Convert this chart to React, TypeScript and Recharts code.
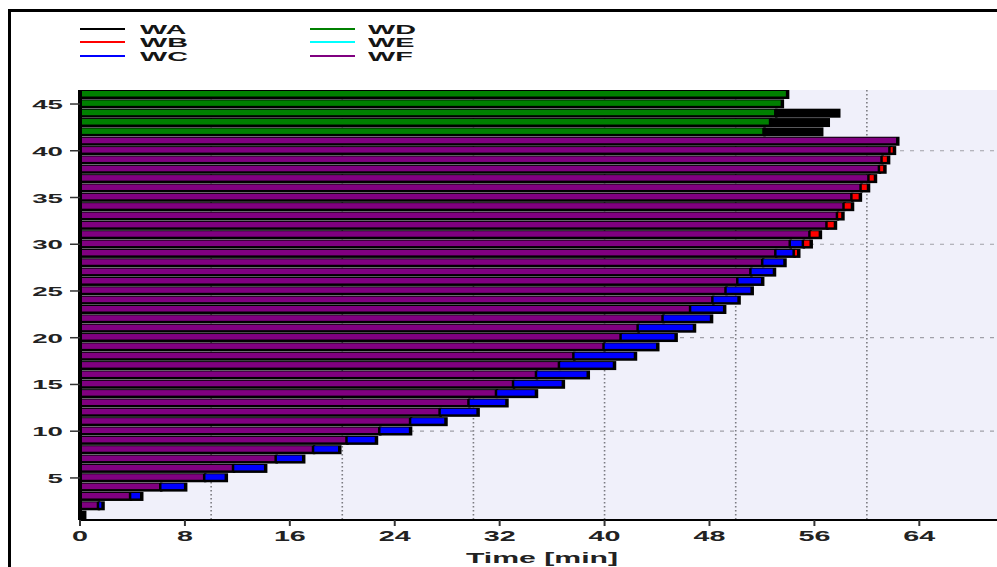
import { Bar, BarChart, CartesianGrid, Legend, XAxis, YAxis } from "recharts";

// machine rows, bottom to top
const rows = [
  1, 2, 3, 4, 5, 6, 7, 8, 9, 10, 11, 12, 13, 14, 15, 16, 17, 18, 19, 20, 21, 22, 23,
  24, 25, 26, 27, 28, 29, 30, 31, 32, 33, 34, 35, 36, 37, 38, 39, 40, 41, 42, 43, 44, 45, 46,
];

// minutes spent in each state, per row
const wf = [
  0, 1.35, 3.8, 6.1, 9.45, 11.65, 14.9, 17.75, 20.3, 22.8, 25.15, 27.4, 29.6, 31.7, 33.0,
  34.75, 36.5, 37.6, 39.9, 41.2, 42.5, 44.4, 46.5, 48.2, 49.2, 50.1, 51.1, 52.0, 53.0, 54.1,
  55.6, 56.9, 57.7, 58.2, 58.8, 59.5, 60.1, 60.9, 61.1, 61.7, 62.3, 0, 0, 0, 0, 0,
];
const wc = [
  0, 0.35, 0.85, 1.9, 1.65, 2.45, 2.1, 2.0, 2.25, 2.35, 2.7, 2.9, 2.9, 3.05, 3.8, 3.95, 4.2,
  4.7, 4.1, 4.2, 4.3, 3.7, 2.6, 2.0, 2.0, 1.9, 1.8, 1.7, 1.4, 1.0, 0, 0, 0, 0, 0, 0, 0, 0, 0,
  0, 0, 0, 0, 0, 0, 0,
];
const wb = [
  0, 0, 0, 0, 0, 0, 0, 0, 0, 0, 0, 0, 0, 0, 0, 0, 0, 0, 0, 0, 0, 0, 0, 0, 0, 0, 0, 0, 0.35,
  0.6, 0.8, 0.65, 0.42, 0.65, 0.65, 0.57, 0.5, 0.42, 0.5, 0.35, 0, 0, 0, 0, 0, 0,
];
const wa = [
  0.3, 0, 0, 0, 0, 0, 0, 0, 0, 0, 0, 0, 0, 0, 0, 0, 0, 0, 0, 0, 0, 0, 0, 0, 0, 0, 0, 0, 0, 0,
  0, 0, 0, 0, 0, 0, 0, 0, 0, 0, 0, 4.4, 4.4, 4.8, 0, 0,
];
const wd = [
  0, 0, 0, 0, 0, 0, 0, 0, 0, 0, 0, 0, 0, 0, 0, 0, 0, 0, 0, 0, 0, 0, 0, 0, 0, 0, 0, 0, 0, 0,
  0, 0, 0, 0, 0, 0, 0, 0, 0, 0, 0, 52.1, 52.6, 53.0, 53.5, 53.9,
];
const we = rows.map(() => 0);

const xTicks = [0, 8, 16, 24, 32, 40, 48, 56, 64];
const yTicks = [5, 10, 15, 20, 25, 30, 35, 40, 45];

const series = [
  { key: "WA", color: "#000000" },
  { key: "WB", color: "#ff0000" },
  { key: "WC", color: "#0000ff" },
  { key: "WD", color: "#008000" },
  { key: "WE", color: "#00ffff" },
  { key: "WF", color: "#800080" },
];

const data = rows.map((r, i) => ({
  row: r,
  WA: wa[i],
  WB: wb[i],
  WC: wc[i],
  WD: wd[i],
  WE: we[i],
  WF: wf[i],
}));

const colorOf = (k: string) => series.find((s) => s.key === k)!.color;
const font = "'Liberation Sans', Arial, sans-serif";
const STRETCH = 2.05;

function Segment(props: any) {
  const { x, y, width, height, fill } = props;
  if (!width || width <= 0) return null;
  return (
    <g>
      <rect x={x} y={y} width={width + 2.5} height={height} fill="#000" />
      <rect
        x={x + 1.5}
        y={y + 1}
        width={Math.max(width - 2.5, 0.6)}
        height={height - 3.5}
        fill={fill}
      />
    </g>
  );
}

function XTick(props: any) {
  const { x, y, payload } = props;
  return (
    <g transform={`translate(${x},${y}) scale(${STRETCH},1)`}>
      <text x={0} y={13.5} textAnchor="middle" fontFamily={font} fontWeight="bold" fontSize={14} fill="#222">
        {payload.value}
      </text>
    </g>
  );
}

function YTick(props: any) {
  const { x, y, payload } = props;
  return (
    <g transform={`translate(${x},${y}) scale(${STRETCH},1)`}>
      <text x={0} y={5} textAnchor="end" fontFamily={font} fontWeight="bold" fontSize={13.5} fill="#222">
        {payload.value}
      </text>
    </g>
  );
}

function XLabel(props: any) {
  const vb = props.viewBox;
  const cx = vb.x + vb.width / 2 + 3;
  return (
    <g transform={`translate(${cx},${vb.y + 43}) scale(${STRETCH - 0.1},1)`}>
      <text x={0} y={0} textAnchor="middle" fontFamily={font} fontWeight="bold" fontSize={15.5} fill="#222">
        Time [min]
      </text>
    </g>
  );
}

function LegendBox() {
  const cols = [
    ["WA", "WB", "WC"],
    ["WD", "WE", "WF"],
  ];
  return (
    <div style={{ position: "relative", width: 500, height: 60 }}>
      {cols.map((col, ci) =>
        col.map((k, ri) => (
          <div key={k}>
            <div
              style={{
                position: "absolute",
                left: ci === 0 ? 69 : 299,
                top: 16 + ri * 13.4,
                width: 45,
                height: 2,
                background: colorOf(k),
              }}
            />
            <span
              style={{
                position: "absolute",
                left: ci === 0 ? 129 : 357,
                top: 11 + ri * 13.4,
                fontFamily: font,
                fontWeight: "bold",
                fontSize: 13.5,
                lineHeight: "13px",
                color: "#151515",
                transform: `scaleX(${STRETCH + 0.08})`,
                transformOrigin: "left center",
              }}
            >
              {k}
            </span>
          </div>
        ))
      )}
    </div>
  );
}

export default function App() {
  return (
    <div
      style={{
        position: "fixed",
        left: 8,
        top: 9,
        width: 989,
        height: 558,
        borderLeft: "3px solid #000",
        borderTop: "3px solid #000",
        background: "#fff",
        overflow: "hidden",
      }}
    >
      <BarChart
        width={987}
        height={555}
        data={data}
        layout="vertical"
        barCategoryGap={0}
        margin={{ top: 18, right: 0, bottom: 0, left: 0 }}
      >
        <CartesianGrid
          fill="#f0f0fa"
          horizontal={false}
          verticalValues={[10, 20, 30, 40, 50, 60]}
          stroke="#7a7a80"
          strokeWidth={1.6}
          strokeDasharray="1.5 2.5"
        />
        <CartesianGrid
          vertical={false}
          horizontalValues={[10, 20, 30, 40]}
          stroke="#a0a0a8"
          strokeWidth={1.2}
          strokeDasharray="4 6"
        />
        <Legend
          verticalAlign="top"
          align="left"
          content={() => <LegendBox />}
          wrapperStyle={{ top: 0, left: 0, width: 500 }}
        />
        <XAxis
          type="number"
          domain={[0, 70]}
          ticks={xTicks}
          allowDataOverflow
          height={47}
          tickSize={6}
          tickMargin={2}
          tick={<XTick />}
          tickLine={{ stroke: "#333", strokeWidth: 2 }}
          axisLine={{ stroke: "#000", strokeWidth: 2 }}
          label={<XLabel />}
        />
        <XAxis
          xAxisId="top"
          orientation="top"
          type="number"
          domain={[0, 70]}
          height={0}
          tick={false}
          tickLine={false}
          axisLine={{ stroke: "#555", strokeWidth: 1.5 }}
        />
        <YAxis
          type="category"
          dataKey="row"
          reversed
          width={69}
          ticks={yTicks}
          interval={0}
          tickSize={10}
          tickMargin={7}
          tick={<YTick />}
          tickLine={{ stroke: "#333", strokeWidth: 1.5 }}
          axisLine={{ stroke: "#000", strokeWidth: 4 }}
        />
        {["WD", "WF", "WC", "WB", "WA", "WE"].map((k) => (
          <Bar
            key={k}
            dataKey={k}
            stackId="t"
            fill={colorOf(k)}
            shape={<Segment />}
            isAnimationActive={false}
          />
        ))}
      </BarChart>
    </div>
  );
}
